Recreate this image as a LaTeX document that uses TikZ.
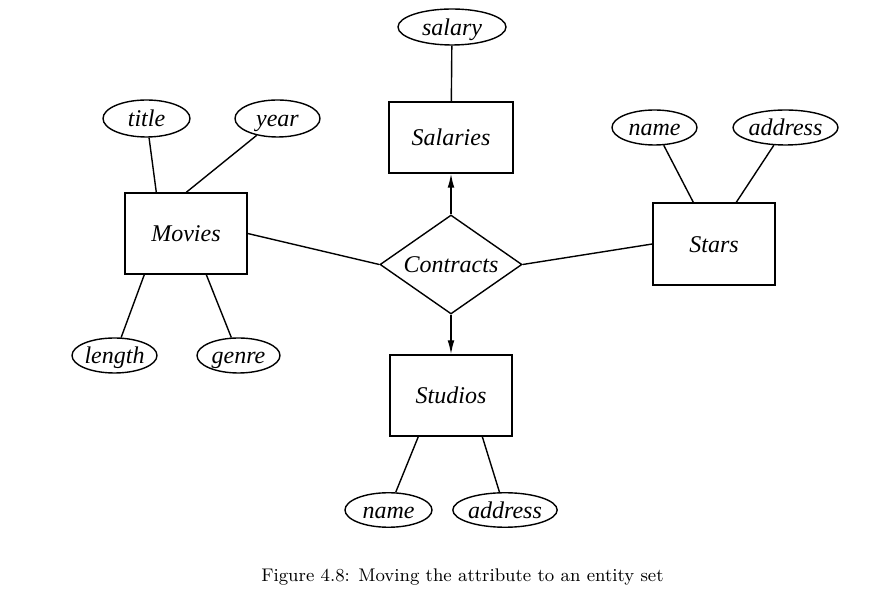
\documentclass[tikz,border=0pt]{standalone}
\usepackage{fontspec}
\setmainfont{Latin Modern Roman}
\newfontfamily\attrfont{Liberation Serif}
\usetikzlibrary{shapes.geometric,arrows.meta,calc}
\begin{document}
\begin{tikzpicture}[x=0.5pt,y=-0.5pt,line width=0.7pt,
  lbl/.style={font=\attrfont\itshape\fontsize{12}{14}\selectfont,text height=10.2pt,text depth=2pt},
  ent/.style={lbl,draw,rectangle,inner sep=0pt,minimum width=61pt,minimum height=40.5pt},
  attr/.style={lbl,draw,ellipse,inner sep=0pt,minimum height=18pt},
  rel/.style={lbl,draw,diamond,inner sep=0pt,shape aspect=1.43,minimum width=71pt,minimum height=49.5pt},
  arr/.style={-{Latex[length=7pt,width=3.4pt]}}]
\useasboundingbox (0,0) rectangle (873,603);
% entities
\node[ent,minimum width=62pt,minimum height=35.5pt] (salaries) at (451,137.5) {Salaries};
\node[ent] (movies) at (186,233.5) {Movies};
\node[ent,minimum height=41pt] (stars) at (714,244) {Stars};
\node[ent] (studios) at (451,395.5) {Studios};
% relationship
\node[rel] (contracts) at (451,264.5) {Contracts};
% attributes
\node[attr,minimum width=54pt] (salary) at (452,27) {salary};
\node[attr,minimum width=43.5pt,minimum height=18.5pt] (title) at (146.5,118.5) {title};
\node[attr,minimum width=42.5pt,minimum height=18.5pt] (year) at (277.5,118.5) {year};
\node[attr,minimum width=42.5pt,minimum height=17.5pt] (length) at (114.5,355.5) {length};
\node[attr,minimum width=41.5pt,minimum height=17.5pt] (genre) at (238.5,355.5) {genre};
\node[attr,minimum width=42.5pt,minimum height=17.5pt] (sname) at (654.5,127.5) {name};
\node[attr,minimum width=52.5pt,minimum height=17.5pt] (saddress) at (785.5,127.5) {address};
\node[attr,minimum width=43.5pt,minimum height=16pt] (stname) at (388.5,510) {name};
\node[attr,minimum width=47pt,minimum height=16pt] (staddress) at (505,510) {address};
% connectors
\draw (salary) -- (salaries);
\draw[arr] (contracts.north) -- (salaries.south);
\draw[arr] (contracts.south) -- (studios.north);
\draw (movies.east) -- (contracts.west);
\draw (contracts.east) -- (stars.west);
\draw (title) -- ($(movies.north west)+(32,0)$);
\draw (year) -- ($(movies.north west)+(62,0)$);
\draw (length) -- ($(movies.south west)+(20,0)$);
\draw (genre) -- ($(movies.south west)+(82,0)$);
\draw (sname) -- ($(stars.north west)+(41,0)$);
\draw (saddress) -- ($(stars.north west)+(84,0)$);
\draw (stname) -- ($(studios.south west)+(29,0)$);
\draw (staddress) -- ($(studios.south west)+(93,0)$);
% caption
\node[font=\fontsize{9.15}{11}\selectfont] (caption) at (462.5,577) {Figure 4.8: Moving the attribute to an entity set};
\end{tikzpicture}
\end{document}
